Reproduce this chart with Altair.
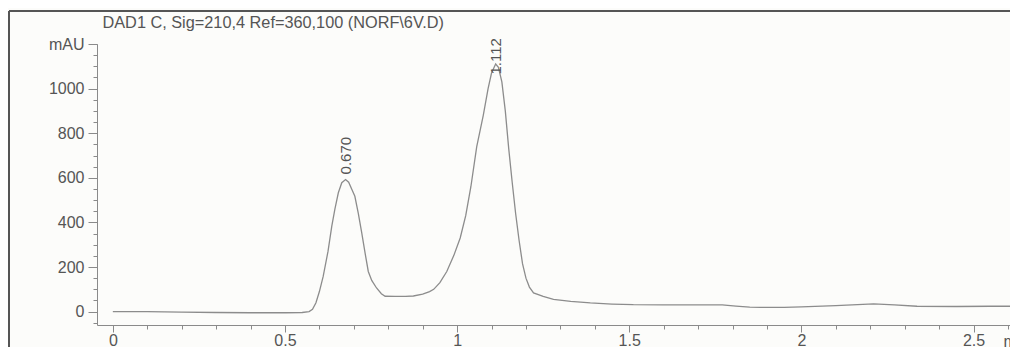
import altair as alt
import pandas as pd

# Retention time (min) and signal (mAU)
times = [0.0, 0.1, 0.2, 0.3, 0.4, 0.5, 0.55, 0.57, 0.58, 0.59, 0.60, 0.611, 0.625, 0.636,
         0.645, 0.655, 0.665, 0.676, 0.685, 0.695, 0.703, 0.713, 0.723, 0.733, 0.742, 0.752,
         0.766, 0.78, 0.791, 0.82, 0.85, 0.873, 0.9, 0.92, 0.932, 0.95, 0.97, 0.99, 1.009,
         1.025, 1.04, 1.057, 1.076, 1.09, 1.10, 1.112, 1.12, 1.13, 1.14, 1.15, 1.16, 1.17,
         1.18, 1.19, 1.20, 1.21, 1.222, 1.25, 1.28, 1.33, 1.387, 1.45, 1.512, 1.6, 1.7, 1.77,
         1.81, 1.85, 1.881, 1.95, 2.0, 2.1, 2.21, 2.27, 2.336, 2.45, 2.55, 2.63]
signal = [0, 0, -2, -4, -5, -5, -4, 0, 10, 40, 90, 158, 270, 383,
          460, 533, 578, 592, 580, 545, 517, 440, 353, 260, 180, 140,
          106, 80, 69, 68, 68, 70, 78, 90, 100, 130, 180, 250, 330,
          430, 560, 740, 880, 1000, 1070, 1110, 1095, 1030, 900, 730, 580, 440,
          320, 215, 150, 110, 84, 68, 55, 46, 39, 34, 31, 30, 30, 30,
          25, 20, 19, 19, 21, 27, 35, 30, 24, 23, 24, 24]

peak_times = [0.676, 1.113]
peak_labels = ["0.670", "1.112"]
peak_label_base = [615, 1063]

y_major = [0, 200, 400, 600, 800, 1000, 1200]
y_minor = list(range(-50, 1201, 50))
x_major = [0, 0.5, 1, 1.5, 2, 2.5]
x_minor = [round(i * 0.1, 1) for i in range(0, 27)]

title_text = "DAD1 C, Sig=210,4 Ref=360,100 (NORF\\6V.D)"

FONT = "Liberation Sans"
TXT = "#555555"
AX = "#8a8a8a"

df = pd.DataFrame({"t": times, "v": signal})
peaks = pd.DataFrame({"t": peak_times, "v": peak_label_base, "label": peak_labels})
title_df = pd.DataFrame({"label": [title_text]})

xscale = alt.Scale(domain=[-0.046, 2.606], nice=False, zero=False)
yscale = alt.Scale(domain=[-60, 1200], nice=False, zero=False)

line = alt.Chart(df).mark_line(color="#8c8c8c", strokeWidth=1.3, clip=True).encode(
    x=alt.X("t:Q", scale=xscale,
            axis=alt.Axis(values=x_major, orient="bottom", grid=False, domainColor=AX,
                          tickColor=AX, tickSize=7, labelPadding=0, labelFont=FONT,
                          labelFontSize=16, labelColor=TXT, labelFlush=False, format="~g",
                          title="min", titleFont=FONT, titleFontSize=16,
                          titleFontWeight="normal", titleColor=TXT, titleX=906,
                          titleY=8, titleAlign="left", titleBaseline="top")),
    y=alt.Y("v:Q", scale=yscale,
            axis=alt.Axis(values=y_major, orient="left", grid=False, domainColor=AX,
                          tickColor=AX, tickSize=9, labelPadding=4, labelFont=FONT,
                          labelFontSize=16, labelColor=TXT, format="d",
                          labelExpr="datum.value == 1200 ? 'mAU' : datum.label",
                          title=None, labelFlush=False)),
)

minor = alt.Chart(df).mark_line(opacity=0).encode(
    x=alt.X("t:Q", scale=xscale,
            axis=alt.Axis(values=x_minor, orient="bottom", grid=False, domain=False,
                          tickColor=AX, tickSize=4, labels=False, title=None)),
    y=alt.Y("v:Q", scale=yscale,
            axis=alt.Axis(values=y_minor, orient="left", grid=False, domain=False,
                          tickColor=AX, tickSize=4, labels=False, title=None)),
)

labels = alt.Chart(peaks).mark_text(angle=270, align="left", baseline="middle",
                                    font=FONT, fontSize=15, color=TXT).encode(
    x=alt.X("t:Q", scale=xscale, axis=None),
    y=alt.Y("v:Q", scale=yscale, axis=None),
    text="label:N",
)

title = alt.Chart(title_df).mark_text(align="left", baseline="alphabetic",
                                      font=FONT, fontSize=16.3, color=TXT).encode(
    x=alt.value(5.5), y=alt.value(-16.2), text="label:N")

frame_df = pd.DataFrame({"k": [0]})
frame_left = alt.Chart(frame_df).mark_rule(color="#555555", strokeWidth=2).encode(
    x=alt.value(-88), y=alt.value(-33), y2=alt.value(330))
frame_top = alt.Chart(frame_df).mark_rule(color="#555555", strokeWidth=2).encode(
    x=alt.value(-88), x2=alt.value(940), y=alt.value(-33))

chart = alt.layer(line, minor, labels, title, frame_left, frame_top).resolve_axis(
    x="independent", y="independent"
).properties(
    width=913, height=281,
    autosize=alt.AutoSizeParams(type="none"),
    padding={"left": 89, "top": 36, "right": 0, "bottom": 22},
    background="#fcfcfa",
).configure_view(stroke=None)

chart.save("out.html", embed_options={"renderer": "svg", "actions": False})
